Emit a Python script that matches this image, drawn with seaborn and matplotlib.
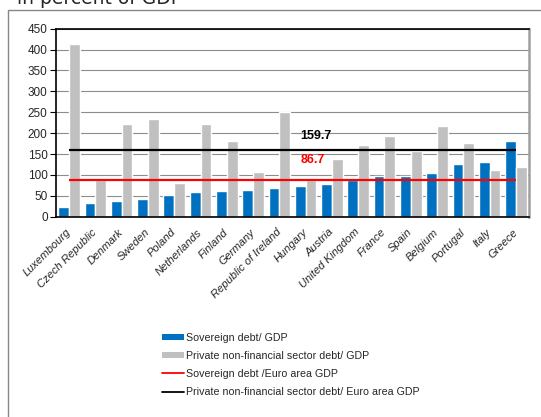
import numpy as np
import pandas as pd
import matplotlib
matplotlib.use("Agg")
import matplotlib.pyplot as plt
from matplotlib.patches import Patch, Rectangle
from matplotlib.lines import Line2D
import seaborn as sns

# values (percent of GDP)
countries = [
    "Luxembourg", "Czech Republic", "Denmark", "Sweden", "Poland", "Netherlands",
    "Finland", "Germany", "Republic of Ireland", "Hungary", "Austria",
    "United Kingdom", "France", "Spain", "Belgium", "Portugal", "Italy", "Greece",
]
sovereign_debt = [23, 34, 37, 42, 51, 58, 62, 65, 69, 73, 78, 88, 97, 98, 104, 126, 132, 180]
private_debt = [412, 88, 222, 234, 81, 221, 181, 108, 250, 87, 139, 171, 192, 158, 218, 176, 112, 119]
sovereign_ea = 86.7
private_ea = 159.7

series_names = ["Sovereign debt/ GDP", "Private non-financial sector debt/ GDP"]
line_names = ["Sovereign debt /Euro area GDP", "Private non-financial sector debt/ Euro area GDP"]
y_ticks = list(range(0, 451, 50))

BLUE = "#0070C0"
GREY = "#C0C0C0"

sns.set_style("white")
plt.rcParams["font.family"] = ["Liberation Sans", "DejaVu Sans"]

df = pd.concat([
    pd.DataFrame({"country": countries, "value": sovereign_debt, "series": series_names[0]}),
    pd.DataFrame({"country": countries, "value": private_debt, "series": series_names[1]}),
])

fig = plt.figure(figsize=(5.41, 4.17), dpi=100)
ax = fig.add_axes([0.1035, 0.4803, 0.8743, 0.4511])

sns.barplot(
    data=df, x="country", y="value", hue="series", order=countries,
    hue_order=series_names, palette=[BLUE, GREY], saturation=1,
    width=0.82, gap=0, legend=False, ax=ax, zorder=2,
)

# euro area reference lines, first to last category centre
n = len(countries)
ax.hlines(sovereign_ea, 0, n - 1, color="#FF0000", lw=1.6, zorder=3)
ax.hlines(private_ea, 0, n - 1, color="black", lw=1.6, zorder=3)
ax.text(8.8, sovereign_ea + 41, f"{sovereign_ea}", color="#FF0000",
        fontsize=9, fontweight="bold", ha="left", va="baseline")
ax.text(8.8, private_ea + 27, f"{private_ea}", color="black",
        fontsize=9, fontweight="bold", ha="left", va="baseline")

ax.set_xlim(-0.5, n - 0.5)
ax.set_ylim(0, 450)
ax.set_yticks(y_ticks)
ax.set_yticklabels([str(v) for v in y_ticks], fontsize=8.5)
ax.yaxis.grid(True, color="#8C8C8C", lw=0.8)
ax.set_axisbelow(True)
ax.set_xlabel("")
ax.set_ylabel("")

ax.set_xticks(range(n))
ax.set_xticklabels(countries, rotation=45, ha="right", va="center",
                   rotation_mode="anchor", fontsize=8, style="italic")
ax.set_xticks(np.arange(-0.5, n, 1), minor=True)
ax.tick_params(axis="x", which="major", length=0, pad=10)
ax.tick_params(axis="x", which="minor", length=4, width=0.8, color="#555555", direction="out")
ax.tick_params(axis="y", length=4, width=0.8, color="black", direction="out", pad=2, left=True)

for side in ["left", "bottom", "top"]:
    ax.spines[side].set_color("black")
    ax.spines[side].set_linewidth(1.2)
ax.spines["right"].set_color("#A0A0A0")
ax.spines["right"].set_linewidth(1.8)

handles = [
    Patch(facecolor=BLUE, edgecolor="none"),
    Patch(facecolor=GREY, edgecolor="none"),
    Line2D([], [], color="#FF0000", lw=1.3),
    Line2D([], [], color="black", lw=1.3),
]
fig.legend(handles, series_names + line_names, loc="upper left",
           bbox_to_anchor=(0.292, 0.212), frameon=False, fontsize=7.7,
           handlelength=2.0, handleheight=0.5, handletextpad=0.25,
           labelspacing=0.75, borderaxespad=0)

# outer chart frame and clipped title, as in the source slide
fig.patches.append(Rectangle((0.0157, -0.1), 1.2, 1.075, transform=fig.transFigure,
                             fill=False, edgecolor="#888888", lw=1.0))
fig.text(0.031, 0.99, "in percent of GDP", fontsize=13.5, family="DejaVu Sans",
         ha="left", va="baseline")

fig.savefig("out.png", dpi=100)
